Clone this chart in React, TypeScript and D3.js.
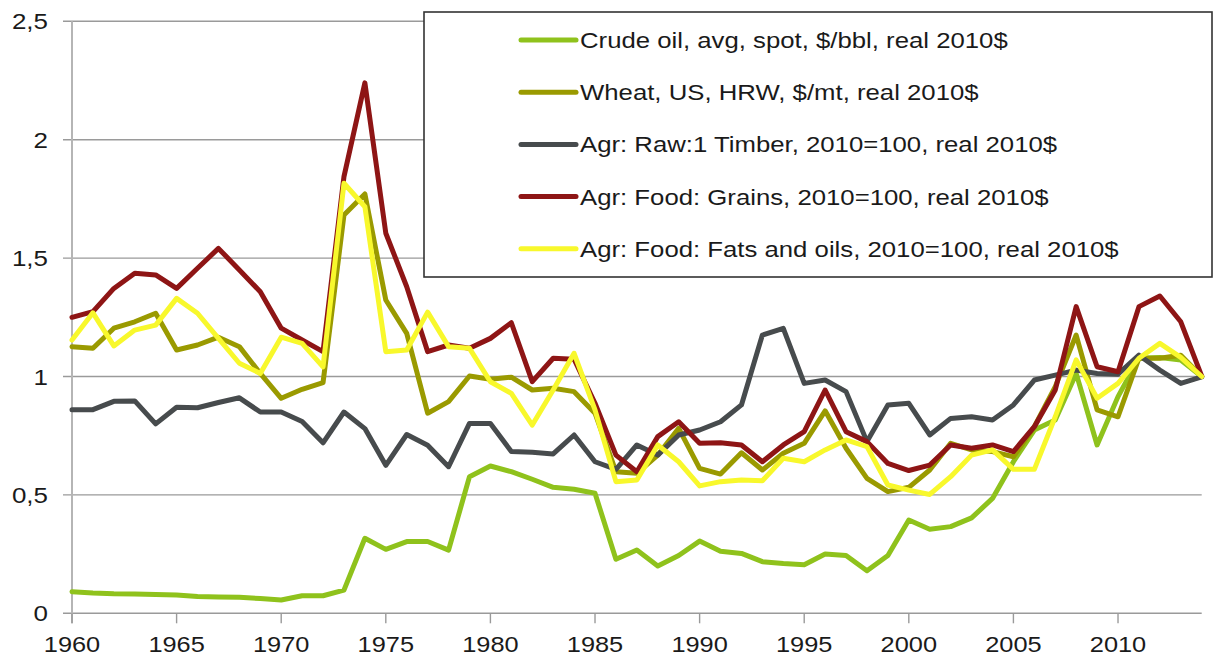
import React from "react";
import * as d3 from "d3";

const years = d3.range(1960, 2015);

const crudeOil = [0.091,0.086,0.083,0.082,0.079,0.077,0.071,0.069,0.068,0.062,0.056,0.074,0.074,0.098,0.317,0.27,0.303,0.303,0.267,0.577,0.622,0.598,0.566,0.532,0.524,0.507,0.228,0.267,0.2,0.244,0.305,0.262,0.253,0.218,0.21,0.205,0.25,0.244,0.18,0.244,0.394,0.355,0.366,0.403,0.485,0.64,0.774,0.816,1.013,0.711,0.915,1.077,1.08,1.07,1.0];
const wheat = [1.126,1.119,1.204,1.231,1.267,1.112,1.133,1.166,1.126,1.013,0.908,0.946,0.974,1.682,1.771,1.323,1.182,0.845,0.894,1.002,0.988,0.997,0.943,0.95,0.936,0.845,0.598,0.591,0.668,0.781,0.612,0.588,0.678,0.605,0.676,0.718,0.855,0.697,0.57,0.514,0.532,0.605,0.718,0.69,0.683,0.661,0.788,0.957,1.175,0.859,0.83,1.077,1.077,1.09,1.0];
const timber = [0.86,0.86,0.895,0.897,0.8,0.87,0.868,0.89,0.91,0.85,0.85,0.81,0.72,0.85,0.78,0.625,0.755,0.71,0.619,0.802,0.802,0.683,0.68,0.673,0.753,0.64,0.608,0.711,0.668,0.753,0.774,0.809,0.88,1.175,1.203,0.971,0.985,0.936,0.725,0.88,0.887,0.753,0.823,0.83,0.816,0.88,0.985,1.006,1.027,1.013,1.01,1.09,1.027,0.971,0.998];
const grains = [1.25,1.274,1.372,1.436,1.429,1.372,1.457,1.541,1.45,1.358,1.204,1.154,1.105,1.844,2.24,1.605,1.379,1.105,1.133,1.119,1.161,1.227,0.978,1.077,1.073,0.887,0.668,0.598,0.746,0.809,0.718,0.72,0.711,0.64,0.711,0.767,0.943,0.767,0.725,0.633,0.603,0.626,0.711,0.697,0.711,0.683,0.788,0.943,1.295,1.041,1.02,1.295,1.34,1.231,1.002];
const fatsOils = [1.154,1.269,1.129,1.196,1.217,1.33,1.267,1.161,1.056,1.013,1.166,1.14,1.041,1.816,1.717,1.105,1.112,1.272,1.126,1.119,0.978,0.929,0.795,0.943,1.098,0.859,0.556,0.563,0.711,0.64,0.538,0.556,0.563,0.56,0.655,0.64,0.69,0.732,0.704,0.542,0.52,0.502,0.577,0.668,0.69,0.608,0.608,0.83,1.07,0.908,0.971,1.077,1.14,1.081,1.0];

const seriesNames = [
  "Crude oil, avg, spot, $/bbl, real 2010$",
  "Wheat, US, HRW, $/mt, real 2010$",
  "Agr: Raw:1 Timber, 2010=100, real 2010$",
  "Agr: Food: Grains, 2010=100, real 2010$",
  "Agr: Food: Fats and oils, 2010=100, real 2010$",
];
const seriesValues = [crudeOil, wheat, timber, grains, fatsOils];
const seriesColors = ["#8fc21c", "#9a9a00", "#474b4d", "#8e1515", "#f8f82c"];

const yTicks = [0, 0.5, 1, 1.5, 2, 2.5];
const xTicks = [1960, 1965, 1970, 1975, 1980, 1985, 1990, 1995, 2000, 2005, 2010];

const fmtY = (v: number) => String(v).replace(".", ",");

export default function App() {
  const W = 1214, H = 657;
  const x = d3.scaleLinear().domain([1960, 2014]).range([72, 1201.7]);
  const y = d3.scaleLinear().domain([0, 2.5]).range([613.3, 21.3]);
  const line = d3.line<number>().x((_, i) => x(years[i])).y((d) => y(d));
  const SX = 1.18;
  const font = "'Liberation Sans', Arial, sans-serif";

  return (
    <svg width={W} height={H} style={{ position: "absolute", left: 0, top: 0, background: "#fff" }}>
      {yTicks.map((t) => (
        <line key={"g" + t} x1={63} x2={x(2014)} y1={y(t)} y2={y(t)} stroke="#9a9a9a" strokeWidth={1.4} />
      ))}
      <line x1={x(1960)} x2={x(1960)} y1={y(2.5)} y2={y(0) + 10} stroke="#b5b5b5" strokeWidth={2} />
      {xTicks.map((t) => (
        <line key={"xt" + t} x1={x(t)} x2={x(t)} y1={y(0)} y2={y(0) + 10} stroke="#9a9a9a" strokeWidth={1.4} />
      ))}
      {yTicks.map((t) => (
        <text key={"yl" + t} transform={`translate(48,${y(t) + 8}) scale(${SX},1)`} textAnchor="end"
          fontFamily={font} fontSize={22} fill="#1a1a1a">{fmtY(t)}</text>
      ))}
      {xTicks.map((t) => (
        <text key={"xl" + t} transform={`translate(${x(t)},652) scale(${SX},1)`} textAnchor="middle"
          fontFamily={font} fontSize={21.5} fill="#1a1a1a">{t}</text>
      ))}
      {seriesValues.map((vals, i) => (
        <path key={"s" + i} d={line(vals) || ""} fill="none" stroke={seriesColors[i]} strokeWidth={5}
          strokeLinejoin="round" strokeLinecap="round" />
      ))}
      <rect x={424} y={12} width={788} height={265} fill="#fff" stroke="#333" strokeWidth={1.6} />
      {seriesNames.map((n, i) => {
        const ry = 40 + i * 52.2;
        return (
          <g key={"lg" + i}>
            <line x1={521} x2={576} y1={ry} y2={ry} stroke={seriesColors[i]} strokeWidth={5} strokeLinecap="round" />
            <text transform={`translate(580,${ry + 8}) scale(1.17,1)`} fontFamily={font} fontSize={22} fill="#1a1a1a">{n}</text>
          </g>
        );
      })}
    </svg>
  );
}
